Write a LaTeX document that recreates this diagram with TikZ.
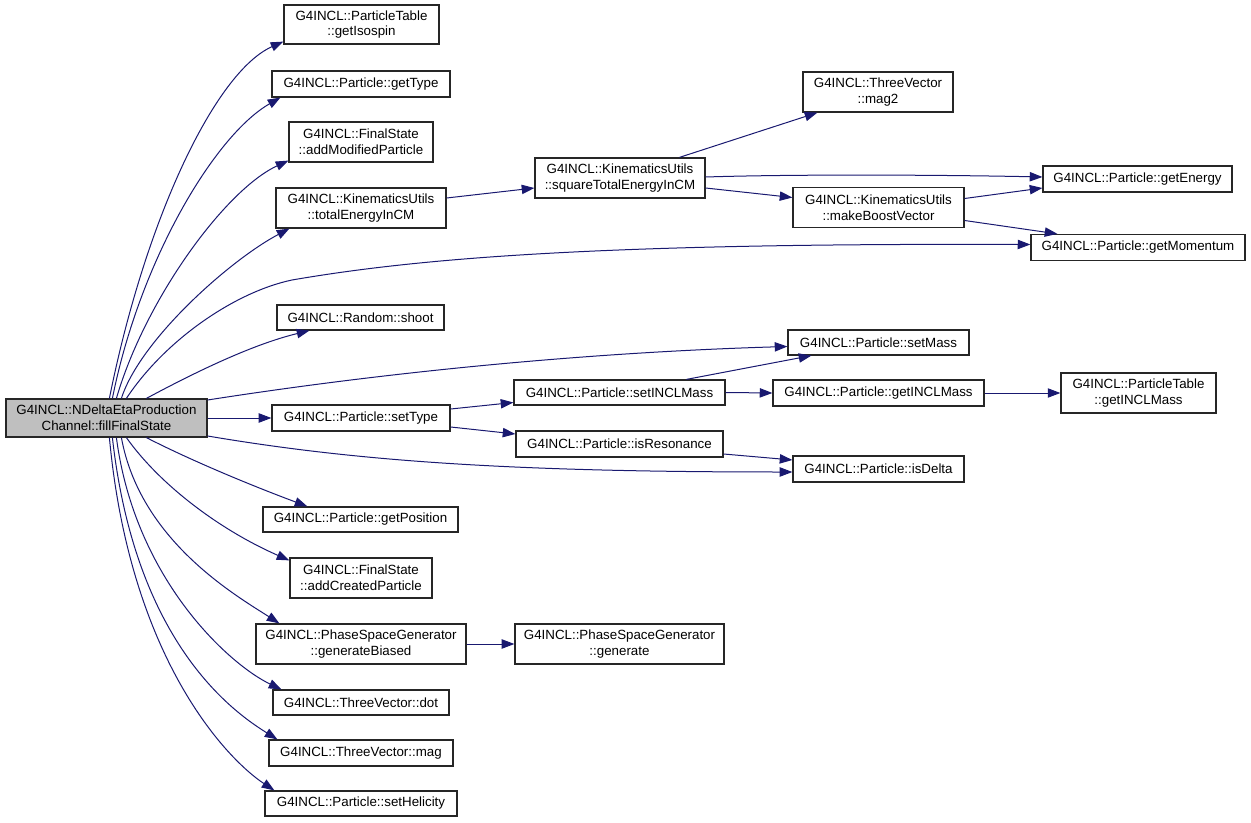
\documentclass[tikz,border=0pt]{standalone}
\usepackage{fontspec}
\setmainfont{Liberation Sans}
\usetikzlibrary{arrows.meta,calc}
\definecolor{edgec}{HTML}{191970}
\definecolor{rootfill}{HTML}{BFBFBF}
\begin{document}
\begin{tikzpicture}[x=0.75pt,y=-0.75pt,
  box/.style={draw=black!85, line width=0.9pt, fill=white, inner sep=0pt, align=center, font=\fontsize{10}{11.75}\selectfont},
  sz/.style 2 args={minimum width=#1*0.75pt, minimum height=#2*0.75pt},
  edge/.style={draw=edgec, line width=0.75pt, -{Triangle[length=9.5pt,width=7pt]}}]
\useasboundingbox (0,0) rectangle (1251,823);
% nodes
\node[box, sz={201}{38}, fill=rootfill] (root) at (106.5,418) {G4INCL::NDeltaEtaProduction\\Channel::fillFinalState};
\node[box, sz={155}{39}] (iso) at (361.5,24.5) {G4INCL::ParticleTable\\::getIsospin};
\node[box, sz={178}{26}] (gtype) at (361,84) {G4INCL::Particle::getType};
\node[box, sz={144}{40}] (addmod) at (361,142) {G4INCL::FinalState\\::addModifiedParticle};
\node[box, sz={170}{40}] (tote) at (361,208) {G4INCL::KinematicsUtils\\::totalEnergyInCM};
\node[box, sz={170}{40}] (sqe) at (620,178) {G4INCL::KinematicsUtils\\::squareTotalEnergyInCM};
\node[box, sz={150}{40}] (magtwo) at (878,92) {G4INCL::ThreeVector\\::mag2};
\node[box, sz={189}{26}] (energy) at (1137.5,179) {G4INCL::Particle::getEnergy};
\node[box, sz={171}{40}] (boost) at (878.5,207.5) {G4INCL::KinematicsUtils\\::makeBoostVector};
\node[box, sz={214}{26}] (mom) at (1138,247.5) {G4INCL::Particle::getMomentum};
\node[box, sz={167}{25}] (shoot) at (360.5,317.5) {G4INCL::Random::shoot};
\node[box, sz={181}{25}] (setmass) at (878.5,342.5) {G4INCL::Particle::setMass};
\node[box, sz={211}{25}] (setincl) at (619.5,392.5) {G4INCL::Particle::setINCLMass};
\node[box, sz={178}{26}] (settype) at (361,418) {G4INCL::Particle::setType};
\node[box, sz={207}{26}] (isres) at (619.5,444) {G4INCL::Particle::isResonance};
\node[box, sz={211}{26}] (getincl) at (878.5,393) {G4INCL::Particle::getINCLMass};
\node[box, sz={155}{40}] (ptincl) at (1138.5,393) {G4INCL::ParticleTable\\::getINCLMass};
\node[box, sz={171}{26}] (isdelta) at (878.5,469) {G4INCL::Particle::isDelta};
\node[box, sz={195}{25}] (getpos) at (360.5,519.5) {G4INCL::Particle::getPosition};
\node[box, sz={142}{40}] (addcr) at (361,578) {G4INCL::FinalState\\::addCreatedParticle};
\node[box, sz={210}{40}] (genb) at (361,644) {G4INCL::PhaseSpaceGenerator\\::generateBiased};
\node[box, sz={209}{40}] (gen) at (619.5,644) {G4INCL::PhaseSpaceGenerator\\::generate};
\node[box, sz={176}{25}] (vdot) at (361,702.5) {G4INCL::ThreeVector::dot};
\node[box, sz={184}{26}] (vmag) at (361,753) {G4INCL::ThreeVector::mag};
\node[box, sz={192}{25}] (hel) at (361,803.5) {G4INCL::Particle::setHelicity};
% edges from root, upward
\draw[edge] ($(root.north west)+(104,0)$) .. controls (145,220) and (215,72) .. ($(iso.south west)+(0,-3)$);
\draw[edge] ($(root.north west)+(107,0)$) .. controls (140,260) and (215,135) .. ($(gtype.south west)+(9,0)$);
\draw[edge] ($(root.north west)+(111,0)$) .. controls (145,300) and (225,190) .. ($(addmod.south west)+(0,-2)$);
\draw[edge] ($(root.north west)+(116,0)$) .. controls (140,340) and (230,260) .. ($(tote.south west)+(14,0)$);
\draw[edge] ($(root.north west)+(121,0)$) .. controls (165,340) and (235,292) .. (292,280) .. controls (420,258) and (600,243) .. ($(mom.west)+(0,-3)$);
\draw[edge] ($(root.north west)+(141,0)$) .. controls (190,375) and (250,345) .. ($(shoot.south west)+(33,0)$);
% edges from root, sideways
\draw[edge] ($(root.east)+(0,-18)$) .. controls (400,370) and (600,352) .. ($(setmass.west)+(0,4)$);
\draw[edge] (root.east) -- (settype.west);
\draw[edge] ($(root.east)+(0,18)$) .. controls (350,460) and (500,472) .. ($(isdelta.west)+(0,3)$);
% edges from root, downward
\draw[edge] ($(root.south west)+(141,0)$) .. controls (190,460) and (250,485) .. ($(getpos.north west)+(45,0)$);
\draw[edge] ($(root.south west)+(121,0)$) .. controls (160,485) and (220,530) .. ($(addcr.north west)+(0,3)$);
\draw[edge] ($(root.south west)+(116,0)$) .. controls (140,540) and (235,595) .. ($(genb.north west)+(24,0)$);
\draw[edge] ($(root.south west)+(111,0)$) .. controls (135,580) and (230,665) .. ($(vdot.north west)+(9,0)$);
\draw[edge] ($(root.south west)+(107,0)$) .. controls (135,640) and (230,710) .. ($(vmag.north west)+(9,0)$);
\draw[edge] ($(root.south west)+(104,0)$) .. controls (130,660) and (228,760) .. ($(hel.north west)+(10,0)$);
% other edges
\draw[edge] ($(tote.east)+(0,-10)$) -- ($(sqe.west)+(0,10)$);
\draw[edge] ($(sqe.north west)+(145,0)$) -- ($(magtwo.south west)+(15,0)$);
\draw[edge] ($(sqe.east)+(0,-1)$) .. controls (800,174) and (950,175) .. ($(energy.west)+(0,-2)$);
\draw[edge] ($(sqe.east)+(0,10)$) -- ($(boost.west)+(0,-10)$);
\draw[edge] ($(boost.east)+(0,-9)$) -- ($(energy.west)+(0,9)$);
\draw[edge] ($(boost.east)+(0,13)$) -- ($(mom.north west)+(27,0)$);
\draw[edge] ($(settype.east)+(0,-9)$) -- ($(setincl.west)+(0,10)$);
\draw[edge] ($(settype.east)+(0,9)$) -- ($(isres.west)+(0,-10)$);
\draw[edge] ($(setincl.north west)+(173,0)$) -- ($(setmass.south west)+(24,0)$);
\draw[edge] (setincl.east) -- (getincl.west);
\draw[edge] (getincl.east) -- (ptincl.west);
\draw[edge] ($(isres.east)+(0,10)$) -- ($(isdelta.west)+(0,-9)$);
\draw[edge] (genb.east) -- (gen.west);
\end{tikzpicture}
\end{document}
